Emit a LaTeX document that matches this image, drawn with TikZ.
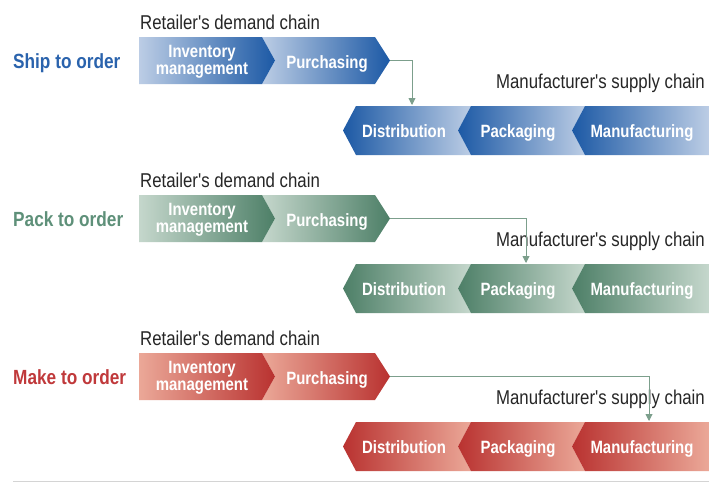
\documentclass[tikz,border=0pt]{standalone}
\usepackage{fontspec}
\setmainfont{Liberation Sans}
\newfontfamily\cond[FakeStretch=0.84]{Liberation Sans}
\usetikzlibrary{arrows.meta}

\definecolor{blueD}{HTML}{1C59A5}
\definecolor{blueL}{HTML}{BCCDE5}
\definecolor{blueT}{HTML}{2A63AD}
\definecolor{greenD}{HTML}{4D7F67}
\definecolor{greenL}{HTML}{C5D7CC}
\definecolor{greenT}{HTML}{5E9079}
\definecolor{redD}{HTML}{B93230}
\definecolor{redL}{HTML}{EBA898}
\definecolor{redT}{HTML}{C0393B}
\definecolor{linkC}{HTML}{7C9F8C}
\definecolor{capC}{HTML}{262626}
\definecolor{ruleC}{HTML}{D4D4D4}

\tikzset{
  steplabel/.style={text=white, font=\cond\bfseries\fontsize{17.8}{16.5}\selectfont,
    align=center, inner sep=0pt, anchor=base},
  chaincap/.style={text=capC, font=\cond\fontsize{20}{22}\selectfont, inner sep=0pt},
  modelabel/.style={font=\cond\bfseries\fontsize{20.5}{22}\selectfont, inner sep=0pt,
    anchor=base west},
  link/.style={draw=linkC, line width=0.9pt,
    -{Triangle[width=7pt,length=7pt]}, shorten >=1pt},
}

\begin{document}
\begin{tikzpicture}[x=1pt,y=-1pt]
\useasboundingbox (0,0) rectangle (709,482);
\fill[white] (0,0) rectangle (709,482);

\foreach \r/\lt/\dk/\tc/\mode/\ax in {
    0/blueL/blueD/blueT/Ship to order/412,
    1/greenL/greenD/greenT/Pack to order/526,
    2/redL/redD/redT/Make to order/649} {
  \begin{scope}[shift={(0,158*\r)}]
    % retailer's demand chain: two chevrons pointing right
    \shade[left color=\lt, middle color=\dk!70!\lt, right color=\dk]
      (262,37) -- (375,37) -- (390,60.5) -- (375,84) -- (262,84) -- (275,60.5) -- cycle;
    \shade[left color=\lt, middle color=\dk!70!\lt, right color=\dk]
      (139,37) -- (262,37) -- (275,60.5) -- (262,84) -- (139,84) -- cycle;
    % manufacturer's supply chain: three chevrons pointing left
    \shade[left color=\dk, middle color=\dk!70!\lt, right color=\lt]
      (343,130.5) -- (356,106) -- (471,106) -- (458,130.5) -- (471,155) -- (356,155) -- cycle;
    \shade[left color=\dk, middle color=\dk!70!\lt, right color=\lt]
      (458,130.5) -- (471,106) -- (585,106) -- (572,130.5) -- (585,155) -- (471,155) -- cycle;
    \shade[left color=\dk, middle color=\dk!70!\lt, right color=\lt]
      (572,130.5) -- (585,106) -- (709,106) -- (709,155) -- (585,155) -- cycle;

    \node[modelabel, text=\tc] (mode\r) at (13,68) {\mode};
    \node[chaincap, anchor=base west] (ret\r) at (140,29) {Retailer's demand chain};
    \node[chaincap, anchor=base east] (man\r) at (705,88) {Manufacturer's supply chain};

    % the base anchor of a two-line label sits on its last line
    \node[steplabel] (inv\r) at (202,74) {Inventory\\management};
    \node[steplabel] (pur\r) at (327,68) {Purchasing};
    \node[steplabel] (dis\r) at (404,137) {Distribution};
    \node[steplabel] (pac\r) at (518,137) {Packaging};
    \node[steplabel] (mfg\r) at (642,137) {Manufacturing};

    \coordinate (out\r) at (390,60.5);
    \coordinate (in\r) at (\ax,106);
    \draw[link] (out\r) -| (in\r);
  \end{scope}
}

\draw[ruleC, line width=0.8pt] (13,481) -- (709,481);
\end{tikzpicture}
\end{document}
